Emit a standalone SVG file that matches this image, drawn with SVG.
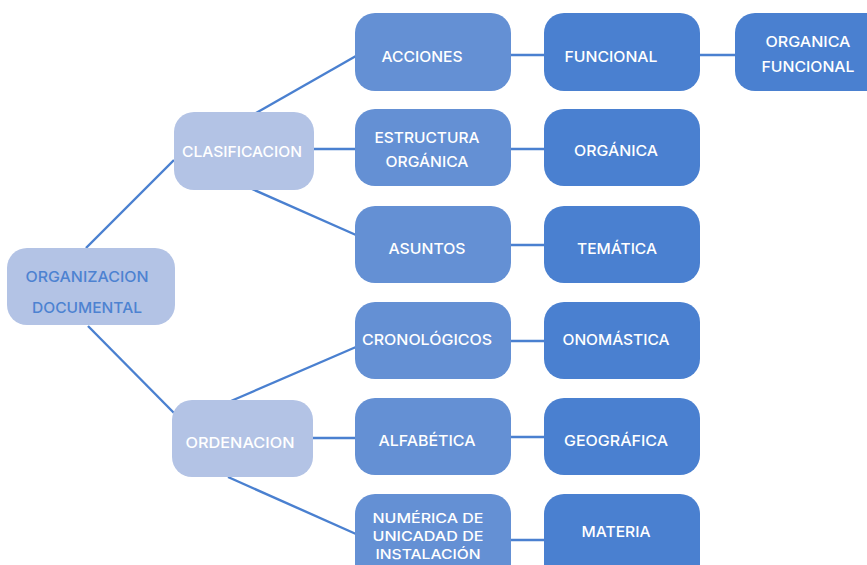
<svg xmlns="http://www.w3.org/2000/svg" width="867" height="565" viewBox="0 0 867 565">
<style>
.c{stroke:#4a80d0;stroke-width:2.4;fill:none}
.l0{fill:#b3c3e5}
.l2{fill:#6490d4}
.l3{fill:#4a80d0}
text{font-family:Inter,"Open Sans","Liberation Sans",sans-serif;font-weight:500;font-size:15px;text-anchor:middle;fill:#ffffff}
.dark{fill:#4d82d1}
.sm{font-size:13.5px}
</style>
<rect width="867" height="565" fill="#ffffff"/>
<g id="connectors">
<line class="c" x1="86" y1="248" x2="174" y2="160"/>
<line class="c" x1="88" y1="326" x2="174" y2="413"/>
<line class="c" x1="256" y1="113" x2="356" y2="56"/>
<line class="c" x1="314" y1="149" x2="356" y2="149"/>
<line class="c" x1="252" y1="189" x2="356" y2="235"/>
<line class="c" x1="231" y1="401" x2="356" y2="347"/>
<line class="c" x1="313" y1="438" x2="356" y2="438"/>
<line class="c" x1="228" y1="477" x2="356" y2="534"/>
<line class="c" x1="511" y1="55" x2="544" y2="55"/>
<line class="c" x1="511" y1="149" x2="544" y2="149"/>
<line class="c" x1="511" y1="245" x2="544" y2="245"/>
<line class="c" x1="511" y1="341" x2="544" y2="341"/>
<line class="c" x1="511" y1="437" x2="544" y2="437"/>
<line class="c" x1="511" y1="540" x2="544" y2="540"/>
<line class="c" x1="700" y1="55" x2="735" y2="55"/>
</g>
<g id="root">
<rect class="l0" x="7" y="248" width="168" height="77" rx="20"/>
<text class="dark" x="87" y="282" textLength="123" lengthAdjust="spacingAndGlyphs">ORGANIZACION</text>
<text class="dark" x="87" y="313" textLength="110" lengthAdjust="spacingAndGlyphs">DOCUMENTAL</text>
</g>
<g id="clasificacion">
<rect class="l0" x="174" y="112" width="140" height="78" rx="20"/>
<text x="242" y="157" textLength="120" lengthAdjust="spacingAndGlyphs">CLASIFICACION</text>
</g>
<g id="ordenacion">
<rect class="l0" x="172" y="400" width="141" height="77" rx="20"/>
<text x="240" y="448" textLength="109" lengthAdjust="spacingAndGlyphs">ORDENACION</text>
</g>
<g id="acciones">
<rect class="l2" x="355" y="13" width="156" height="78" rx="20"/>
<text x="422" y="62" textLength="81" lengthAdjust="spacingAndGlyphs">ACCIONES</text>
</g>
<g id="estructura">
<rect class="l2" x="355" y="109" width="156" height="77" rx="20"/>
<text x="427" y="143" textLength="105" lengthAdjust="spacingAndGlyphs">ESTRUCTURA</text>
<text x="427" y="167" textLength="83" lengthAdjust="spacingAndGlyphs">ORGÁNICA</text>
</g>
<g id="asuntos">
<rect class="l2" x="355" y="206" width="156" height="77" rx="20"/>
<text x="427" y="254" textLength="77" lengthAdjust="spacingAndGlyphs">ASUNTOS</text>
</g>
<g id="cronologicos">
<rect class="l2" x="355" y="302" width="156" height="77" rx="20"/>
<text x="427" y="345" textLength="130" lengthAdjust="spacingAndGlyphs">CRONOLÓGICOS</text>
</g>
<g id="alfabetica">
<rect class="l2" x="355" y="398" width="156" height="77" rx="20"/>
<text x="427" y="446" textLength="97" lengthAdjust="spacingAndGlyphs">ALFABÉTICA</text>
</g>
<g id="numerica">
<rect class="l2" x="355" y="494" width="156" height="90" rx="20"/>
<text class="sm" x="428" y="523" textLength="111" lengthAdjust="spacingAndGlyphs">NUMÉRICA DE</text>
<text class="sm" x="428" y="541" textLength="111" lengthAdjust="spacingAndGlyphs">UNICADAD DE</text>
<text class="sm" x="428" y="559" textLength="105" lengthAdjust="spacingAndGlyphs">INSTALACIÓN</text>
</g>
<g id="funcional">
<rect class="l3" x="544" y="13" width="156" height="78" rx="20"/>
<text x="611" y="62" textLength="93" lengthAdjust="spacingAndGlyphs">FUNCIONAL</text>
</g>
<g id="organica">
<rect class="l3" x="544" y="109" width="156" height="77" rx="20"/>
<text x="616" y="156" textLength="84" lengthAdjust="spacingAndGlyphs">ORGÁNICA</text>
</g>
<g id="tematica">
<rect class="l3" x="544" y="206" width="156" height="77" rx="20"/>
<text x="617" y="254" textLength="80" lengthAdjust="spacingAndGlyphs">TEMÁTICA</text>
</g>
<g id="onomastica">
<rect class="l3" x="544" y="302" width="156" height="77" rx="20"/>
<text x="616" y="345" textLength="107" lengthAdjust="spacingAndGlyphs">ONOMÁSTICA</text>
</g>
<g id="geografica">
<rect class="l3" x="544" y="398" width="156" height="77" rx="20"/>
<text x="616" y="446" textLength="104" lengthAdjust="spacingAndGlyphs">GEOGRÁFICA</text>
</g>
<g id="materia">
<rect class="l3" x="544" y="494" width="156" height="90" rx="20"/>
<text x="616" y="537" textLength="69" lengthAdjust="spacingAndGlyphs">MATERIA</text>
</g>
<g id="organica-funcional">
<rect class="l3" x="735" y="13" width="160" height="78" rx="20"/>
<text x="808" y="47" textLength="85" lengthAdjust="spacingAndGlyphs">ORGANICA</text>
<text x="808" y="72" textLength="93" lengthAdjust="spacingAndGlyphs">FUNCIONAL</text>
</g>
</svg>
